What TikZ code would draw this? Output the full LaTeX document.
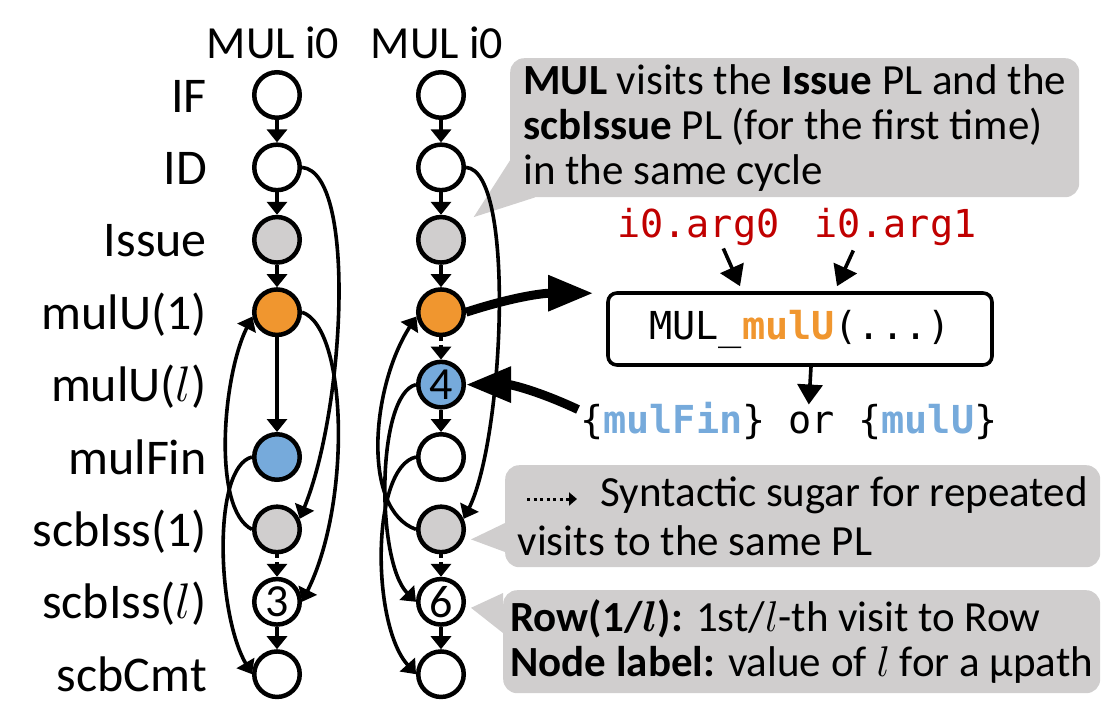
\RequirePackage{fix-cm}
\documentclass[tikz,border=0pt]{standalone}
\usepackage{fontspec}
\setmainfont{Carlito}
\newfontfamily\codefont{DejaVu Sans Mono}
\usepackage{tikz}
\definecolor{PLGray}{HTML}{D0CECE}
\definecolor{PLOrange}{HTML}{F0962F}
\definecolor{PLBlue}{HTML}{76AADB}
\definecolor{ArgRed}{HTML}{C00000}
\usetikzlibrary{arrows.meta}
\usetikzlibrary{backgrounds}
\usetikzlibrary{calc}
\usetikzlibrary{positioning}

\begin{document}
\begin{tikzpicture}[x=1pt, y=-1pt,
    node distance=72.4pt,
    pl/.style={shape=circle, on grid, draw, line width=4.5pt,
      minimum size=45.5pt, inner sep=0pt,
      font=\fontsize{46}{46}\selectfont},
    plwhite/.style={pl, fill=white},
    plgray/.style={pl, fill=PLGray},
    plorange/.style={pl, fill=PLOrange},
    plblue/.style={pl, fill=PLBlue},
    rowlab/.style={inner sep=0pt, text height=40pt, text depth=6pt,
      font=\fontsize{50}{60}\selectfont},
    colhead/.style={inner sep=0pt, font=\fontsize{46}{50}\selectfont},
    flow/.style={line width=3.6pt, -{Triangle[length=13pt, width=20pt]}},
    sugar/.style={flow, dash pattern=on 3.6pt off 4pt},
    callarr/.style={line width=3.6pt, -{Triangle[length=20pt, width=25pt]}},
    bigarr/.style={line width=9pt, -{Triangle[length=45pt, width=34pt]}},
    callout/.style={fill=PLGray, rounded corners=14pt, inner sep=0pt,
      align=left, anchor=north west,
      font=\fontsize{43}{45}\selectfont},
    fnbox/.style={draw, line width=3.6pt, rounded corners=9pt,
      minimum width=384pt, minimum height=72pt,
      font=\codefont\fontsize{38.5}{40}\selectfont},
    code/.style={inner sep=0pt, anchor=base west,
      font=\codefont\fontsize{38.5}{40}\selectfont}]

    \useasboundingbox (0,0) rectangle (1102,702);

    % first mu-path
    \node[plwhite] (if1) at (277,95) {};
    \node[plwhite, below=of if1] (id1) {};
    \node[plgray, below=of id1] (is1) {};
    \node[plorange, below=of is1] (mu1) {};
    \node[plblue, below=144.8pt of mu1] (mf1) {};
    \node[plgray, below=of mf1] (si1) {};
    \node[plwhite, below=of si1] (sl1) {3};
    \node[plwhite, below=of sl1] (sc1) {};

    % second mu-path
    \node[plwhite, right=164pt of if1] (if2) {};
    \node[plwhite, below=of if2] (id2) {};
    \node[plgray, below=of id2] (is2) {};
    \node[plorange, below=of is2] (mu2) {};
    \node[plblue, below=of mu2] (ml2) {4};
    \node[plwhite, below=of ml2] (mf2) {};
    \node[plgray, below=of mf2] (si2) {};
    \node[plwhite, below=of si2] (sl2) {6};
    \node[plwhite, below=of sl2] (sc2) {};

    \node[colhead, anchor=base] (head1) at ($(if1)+(-4,-37)$) {MUL i0};
    \node[colhead, anchor=base] (head2) at ($(if2)+(-4,-37)$) {MUL i0};

    \node[rowlab, left=45pt of if1] (lif) {IF};
    \node[rowlab, left=45pt of id1] (lid) {ID};
    \node[rowlab, left=45pt of is1] (lis) {Issue};
    \node[rowlab, left=45pt of mu1] (lmu) {mulU(1)};
    \node[rowlab, left=209pt of ml2] (lml) {mulU($l$)};
    \node[rowlab, left=45pt of mf1] (lmf) {mulFin};
    \node[rowlab, left=45pt of si1] (lsi) {scbIss(1)};
    \node[rowlab, left=45pt of sl1] (lsl) {scbIss($l$)};
    \node[rowlab, left=45pt of sc1] (lsc) {scbCmt};

    % callouts
    \begin{scope}[on background layer]
      \node[callout, minimum width=569pt, minimum height=139pt] (cb1) at (510,58)
        {\textbf{MUL} visits the \textbf{Issue} PL and the\\
         \textbf{scbIssue} PL (for the first time)\\
         in the same cycle};
      \fill[PLGray] ($(cb1.south west)+(0,-37)$) -- ($(is2.north east)+(15,-5)$)
        -- ($(cb1.south west)+(25,0)$) -- cycle;

      \node[callout, minimum width=595pt, minimum height=102pt,
        font=\fontsize{43}{49}\selectfont] (cb2) at (505,465)
        {\hspace*{83pt}Syntactic sugar for repeated\\
         visits to the same PL};
      \fill[PLGray] ($(cb2.north west)+(0,58)$) -- ($(si2.east)+(5,10)$)
        -- ($(cb2.north west)+(0,87)$) -- cycle;

      \node[callout, minimum width=597pt, minimum height=103pt] (cb3) at (503,590)
        {\textbf{Row(1/{\boldmath$l$}):} 1st/$l$-th visit to Row\\
         \textbf{Node label:} value of $l$ for a μpath};
      \fill[PLGray] ($(cb3.north west)+(0,3)$) -- ($(sl2.east)+(5,6)$)
        -- ($(cb3.north west)+(0,43)$) -- cycle;
    \end{scope}
    \draw[sugar, line width=3pt, dash pattern=on 3pt off 3.5pt,
      -{Triangle[length=8pt, width=13pt]}]
      ($(cb2.north west)+(22,34)$) -- +(50,0);

    % straight visits
    \draw[flow] (if1) -- (id1);
    \draw[flow] (id1) -- (is1);
    \draw[flow] (is1) -- (mu1);
    \draw[flow] (mu1) -- (mf1);
    \draw[sugar] (si1) -- (sl1);
    \draw[flow] (sl1) -- (sc1);

    \draw[flow] (if2) -- (id2);
    \draw[flow] (id2) -- (is2);
    \draw[flow] (is2) -- (mu2);
    \draw[sugar] (mu2) -- (ml2);
    \draw[flow] (ml2) -- (mf2);
    \draw[sugar] (si2) -- (sl2);
    \draw[flow] (sl2) -- (sc2);

    % curved visits
    \draw[flow] (id1.east) .. controls +(55,5) and +(45,-110) .. (si1.25);
    \draw[flow] (mu1.east) .. controls +(45,15) and +(50,-100) .. (sl1.east);
    \draw[flow] (si1.west) .. controls +(-40,-20) and +(-30,60) .. (mu1.190);
    \draw[flow] (mf1.west) .. controls +(-40,10) and +(-35,-60) .. (sc1.west);

    \draw[flow] (id2.east) .. controls +(50,3) and +(40,-80) .. (si2.25);
    \draw[flow] (si2.west) .. controls +(-55,-20) and +(-45,70) .. (mu2.190);
    \draw[flow] (ml2.west) .. controls +(-40,10) and +(-40,-40) .. (sl2.west);
    \draw[flow] (mf2.west) .. controls +(-45,10) and +(-45,-50) .. (sc2.west);

    % function call
    \node[fnbox] (box) at (800,329) {MUL\_\textcolor{PLOrange}{\textbf{mulU}}(...)};
    \node[code, text=ArgRed] (arg0) at (617,237) {i0.arg0};
    \node[code, text=ArgRed] (arg1) at (814,237) {i0.arg1};
    \node[code] (res) at (580,433)
      {\{\textcolor{PLBlue}{\textbf{mulFin}}\} or \{\textcolor{PLBlue}{\textbf{mulU}}\}};

    \draw[callarr] ($(arg0.south)+(25,3)$) -- ($(box.north)+(-60,-5)$);
    \draw[callarr] ($(arg1.south)+(-42,5)$) -- ($(box.north)+(37,-5)$);
    \draw[callarr] ($(box.south)+(11,0)$) -- ($(res.north)+(20,3)$);

    \draw[bigarr] (mu2.east) to[out=18, in=180] ($(box.north west)+(-13,2)$);
    \draw[bigarr] ($(res.north west)+(-2,8)$) to[out=155, in=0] (ml2.east);
\end{tikzpicture}
\end{document}
